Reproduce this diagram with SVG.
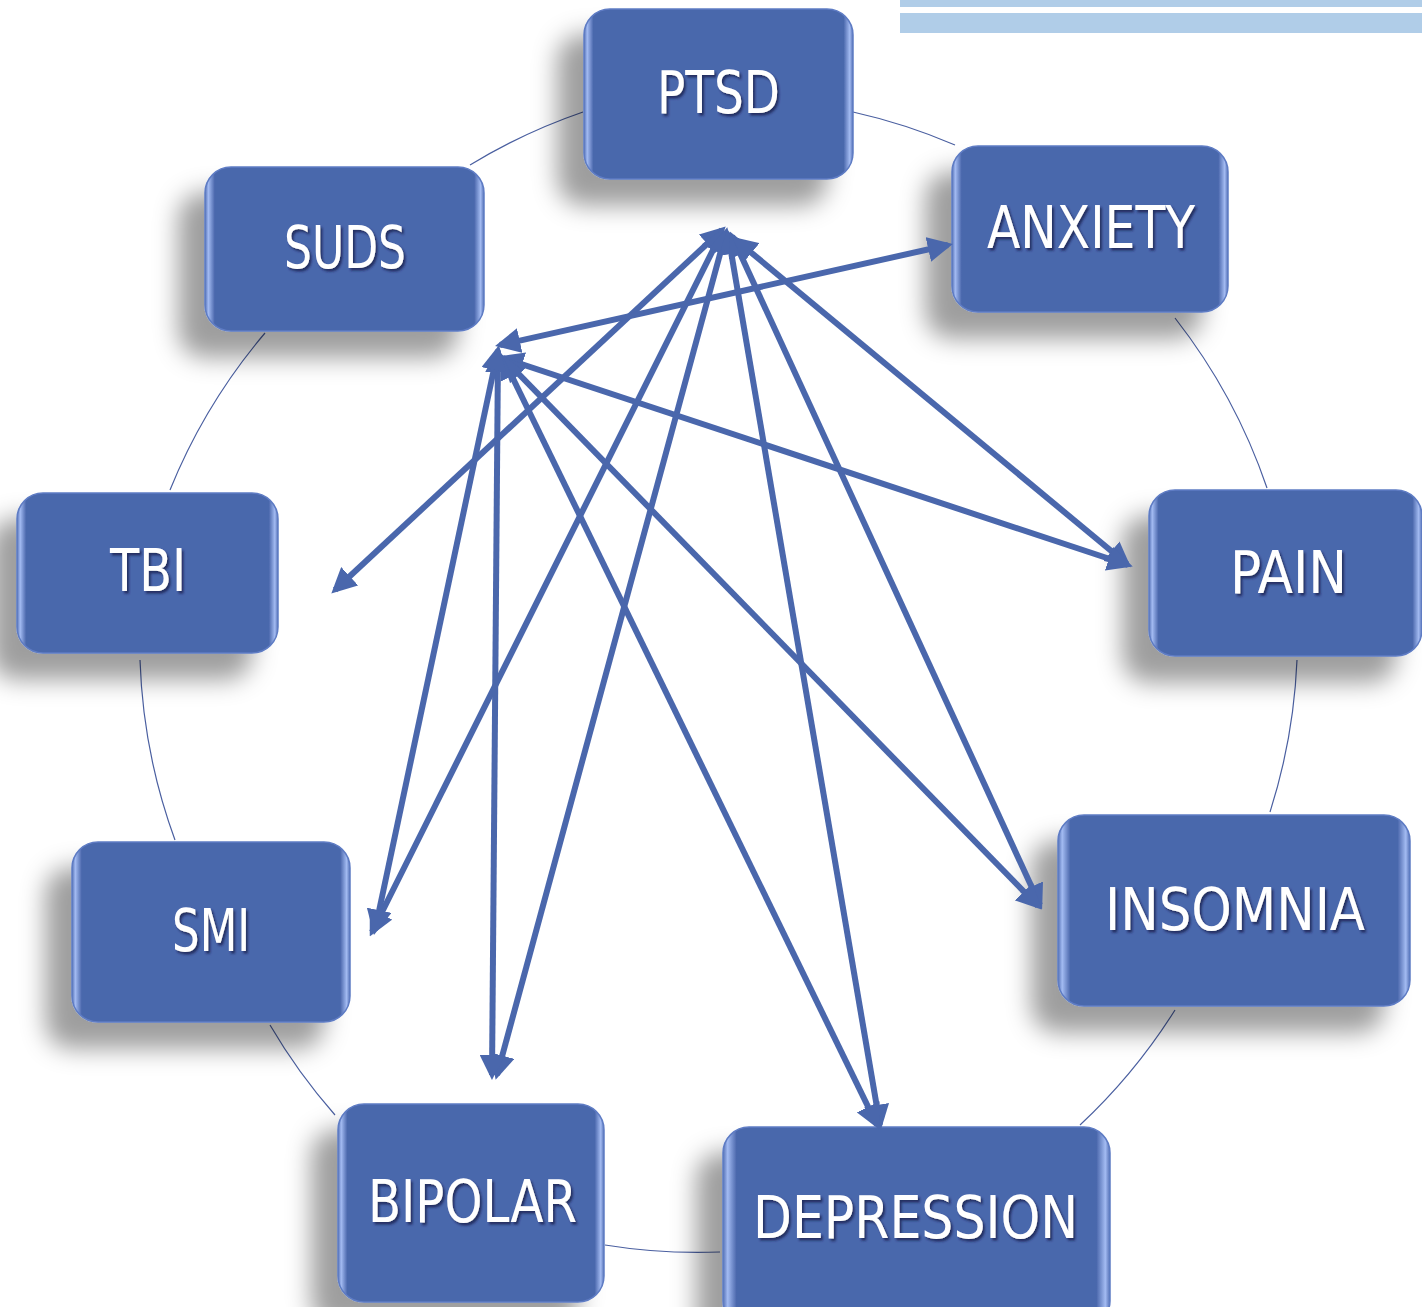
<svg xmlns="http://www.w3.org/2000/svg" width="1422" height="1307" viewBox="0 0 1422 1307">
<defs>
<style>
.box{fill:url(#boxg);stroke:#5E7CC4;stroke-width:1.5}
.lbl{font-family:"DejaVu Sans Condensed","DejaVu Sans",sans-serif;font-size:58px;fill:#FFFFFF;text-anchor:middle}
.arr{fill:none;stroke:#4A67AC;stroke-width:6;marker-end:url(#ah);marker-start:url(#ah)}
.ring{fill:none;stroke:#4A5FA0;stroke-width:1.2}
</style>
<linearGradient id="boxg" x1="0" y1="0" x2="1" y2="0">
<stop offset="0" stop-color="#5470B5"/>
<stop offset="0.012" stop-color="#A3BBF2"/>
<stop offset="0.035" stop-color="#4A67AC"/>
<stop offset="0.965" stop-color="#4A67AC"/>
<stop offset="0.988" stop-color="#A3BBF2"/>
<stop offset="1" stop-color="#5470B5"/>
</linearGradient>
<filter id="sh" x="-40%" y="-40%" width="180%" height="180%">
<feGaussianBlur in="SourceAlpha" stdDeviation="12"/>
<feOffset dx="-26" dy="26" result="b"/>
<feFlood flood-color="#000" flood-opacity="0.38"/>
<feComposite in2="b" operator="in"/>
<feMerge><feMergeNode/><feMergeNode in="SourceGraphic"/></feMerge>
</filter>
<filter id="ts" x="-10%" y="-10%" width="120%" height="130%">
<feDropShadow dx="2" dy="2.5" stdDeviation="1.2" flood-color="#1a2450" flood-opacity="0.8"/>
</filter>
<marker id="ah" viewBox="0 0 10 10" refX="8" refY="5" markerWidth="4.2" markerHeight="4.2" markerUnits="strokeWidth" orient="auto-start-reverse">
<path d="M0,0 L10,5 L0,10 z" fill="#4A67AC"/>
</marker>
</defs>
<rect x="0" y="0" width="1422" height="1307" fill="#FFFFFF"/>
<rect x="900" y="0" width="522" height="7" fill="#B0CDE8"/>
<rect x="900" y="13" width="522" height="20" fill="#B0CDE8"/>
<g id="ring" class="ring">
<path d="M470,165 A578,578 0 0 1 583,112"/>
<path d="M853,112 A578,578 0 0 1 955,145"/>
<path d="M1175,318 A578,578 0 0 1 1267,488"/>
<path d="M1297,660 A578,578 0 0 1 1270,812"/>
<path d="M1175,1010 A578,578 0 0 1 1080,1125"/>
<path d="M720,1252 A578,578 0 0 1 605,1245"/>
<path d="M335,1115 A578,578 0 0 1 270,1025"/>
<path d="M175,840 A578,578 0 0 1 140,660"/>
<path d="M170,490 A578,578 0 0 1 265,333"/>
</g>
<g id="ptsd" filter="url(#sh)"><rect class="box" x="584" y="9" width="269" height="170" rx="26"/><text class="lbl" x="718.5" y="113" textLength="123" lengthAdjust="spacingAndGlyphs" filter="url(#ts)">PTSD</text></g>
<g id="suds" filter="url(#sh)"><rect class="box" x="205" y="167" width="279" height="164" rx="26"/><text class="lbl" x="345" y="268" textLength="122" lengthAdjust="spacingAndGlyphs" filter="url(#ts)">SUDS</text></g>
<g id="anxiety" filter="url(#sh)"><rect class="box" x="952" y="146" width="276" height="166" rx="26"/><text class="lbl" x="1091" y="248" textLength="208" lengthAdjust="spacingAndGlyphs" filter="url(#ts)">ANXIETY</text></g>
<g id="tbi" filter="url(#sh)"><rect class="box" x="17" y="493" width="261" height="160" rx="26"/><text class="lbl" x="148" y="591" textLength="76" lengthAdjust="spacingAndGlyphs" filter="url(#ts)">TBI</text></g>
<g id="pain" filter="url(#sh)"><rect class="box" x="1149" y="490" width="273" height="166" rx="26"/><text class="lbl" x="1288.5" y="593" textLength="117" lengthAdjust="spacingAndGlyphs" filter="url(#ts)">PAIN</text></g>
<g id="smi" filter="url(#sh)"><rect class="box" x="72" y="842" width="278" height="180" rx="26"/><text class="lbl" x="211" y="951" textLength="78" lengthAdjust="spacingAndGlyphs" filter="url(#ts)">SMI</text></g>
<g id="insomnia" filter="url(#sh)"><rect class="box" x="1058" y="815" width="352" height="191" rx="26"/><text class="lbl" x="1235" y="930" textLength="260" lengthAdjust="spacingAndGlyphs" filter="url(#ts)">INSOMNIA</text></g>
<g id="bipolar" filter="url(#sh)"><rect class="box" x="338" y="1104" width="266" height="198" rx="26"/><text class="lbl" x="472.5" y="1222" textLength="209" lengthAdjust="spacingAndGlyphs" filter="url(#ts)">BIPOLAR</text></g>
<g id="depression" filter="url(#sh)"><rect class="box" x="723" y="1127" width="387" height="200" rx="26"/><text class="lbl" x="915.5" y="1238" textLength="325" lengthAdjust="spacingAndGlyphs" filter="url(#ts)">DEPRESSION</text></g>
<g id="connectors">
<line class="arr" x1="722" y1="230" x2="335" y2="590"/>
<line class="arr" x1="722" y1="232" x2="372" y2="932"/>
<line class="arr" x1="726" y1="232" x2="497" y2="1075"/>
<line class="arr" x1="728" y1="234" x2="880" y2="1125"/>
<line class="arr" x1="732" y1="236" x2="1040" y2="905"/>
<line class="arr" x1="736" y1="240" x2="1127" y2="564"/>
<line class="arr" x1="500" y1="345" x2="948" y2="245"/>
<line class="arr" x1="503" y1="358" x2="1128" y2="565"/>
<line class="arr" x1="505" y1="360" x2="1038" y2="906"/>
<line class="arr" x1="503" y1="358" x2="877" y2="1125"/>
<line class="arr" x1="498" y1="352" x2="492" y2="1075"/>
<line class="arr" x1="498" y1="350" x2="375" y2="930"/>
</g>
</svg>
